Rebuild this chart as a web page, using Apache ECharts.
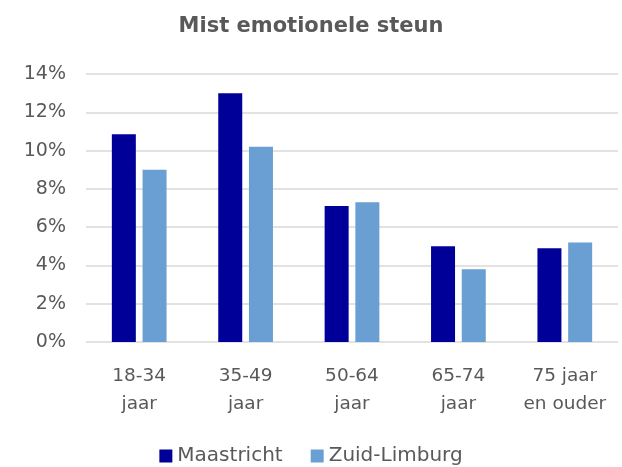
<!DOCTYPE html>
<html>
<head>
<meta charset="utf-8">
<script src="https://cdn.jsdelivr.net/npm/echarts@6/dist/echarts.min.js"></script>
<style>
  html, body { margin: 0; padding: 0; background: #fff; }
  #chart { width: 622px; height: 467px; }
</style>
</head>
<body>
<div id="chart"></div>
<script>
// leeftijdsgroepen en percentages
const categories = ['18-34\njaar', '35-49\njaar', '50-64\njaar', '65-74\njaar', '75 jaar\nen ouder'];
const maastricht = [10.85, 13.0, 7.1, 5.0, 4.9];
const zuidLimburg = [9.0, 10.2, 7.3, 3.8, 5.2];
const yTicks = [0, 2, 4, 6, 8, 10, 12, 14];

const font = '"DejaVu Sans", sans-serif';
const chart = echarts.init(document.getElementById('chart'));

chart.setOption({
  animation: false,
  title: {
    text: 'Mist emotionele steun',
    left: 'center',
    top: 11,
    textStyle: { fontFamily: font, fontSize: 21, fontWeight: 'bold', color: '#595959' }
  },
  legend: {
    bottom: -4,
    left: 'center',
    itemWidth: 13,
    itemHeight: 13,
    itemGap: 28,
    icon: 'rect',
    textStyle: { fontFamily: font, fontSize: 20, color: '#595959' },
    data: ['Maastricht', 'Zuid-Limburg']
  },
  grid: { left: 86, right: 4, top: 74, bottom: 125 },
  xAxis: {
    type: 'category',
    data: categories,
    axisLine: { show: false },
    axisTick: { show: false },
    axisLabel: { interval: 0, fontFamily: font, fontSize: 18.5, color: '#595959', margin: 20, lineHeight: 28 }
  },
  yAxis: {
    type: 'value',
    min: yTicks[0],
    max: yTicks[yTicks.length - 1],
    interval: 2,
    axisLine: { show: false },
    axisTick: { show: false },
    axisLabel: { fontFamily: font, fontSize: 19, color: '#595959', margin: 20, formatter: v => v + '%' },
    splitLine: { lineStyle: { color: '#d9d9d9', width: 1.5 } }
  },
  series: [
    {
      name: 'Maastricht',
      type: 'bar',
      data: maastricht,
      barWidth: 24,
      barGap: '28%',
      itemStyle: { color: '#000099' }
    },
    {
      name: 'Zuid-Limburg',
      type: 'bar',
      data: zuidLimburg,
      barWidth: 24,
      itemStyle: { color: '#6a9fd3' }
    }
  ]
});
</script>
</body>
</html>
